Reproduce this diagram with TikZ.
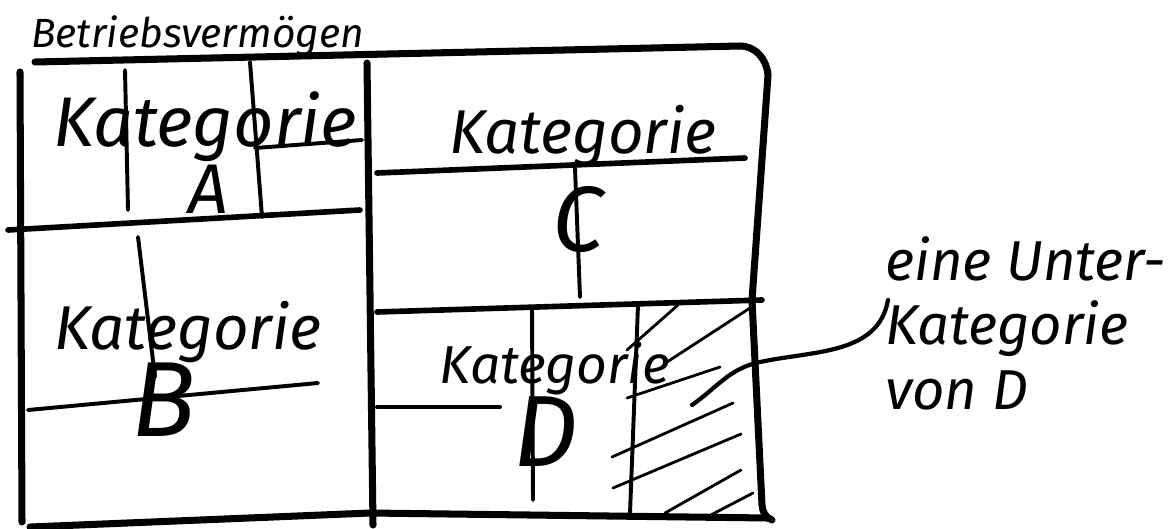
\documentclass[tikz,border=0pt]{standalone}
\usepackage{fontspec}
\setmainfont{Fira Sans}

\begin{document}
\begin{tikzpicture}[
  x=0.025cm, y=-0.025cm,
  line cap=round, line join=round,
  outline/.style={line width=5pt},
  split/.style={line width=4pt},
  sub/.style={line width=2.8pt},
  hatch/.style={line width=2pt},
  lead/.style={line width=3pt},
  kat/.style={anchor=base, inner sep=0pt},
  letter/.style={anchor=base, inner sep=0pt}
]
\useasboundingbox (0,0) rectangle (1176,528);

\node[anchor=base west, inner sep=0pt, font=\itshape\fontsize{29}{30}\selectfont] (title) at (31,47) {Betriebsvermögen};

\draw[outline] (35,62) -- (740,46) to[out=0,in=95] (768,75) -- (752,300) -- (762,505) to[out=-85,in=160] (772,520);
\draw[outline] (20,72) -- (22,522);
\draw[outline] (367,63) -- (373,525);
\draw[outline] (30,527) -- (370,513) -- (768,518);

\draw[split] (8,230) -- (360,210);
\draw[split] (377,312) -- (762,300);
\draw[split] (377,173) -- (745,158);

\draw[sub] (125,70) -- (128,210);
\draw[sub] (250,62) -- (262,217);
\draw[sub] (255,148) -- (362,140);
\draw[sub] (138,237) -- (155,377);
\draw[sub] (28,410) -- (318,383);
\draw[sub] (575,168) -- (580,297);
\draw[sub] (377,407) -- (500,407);
\draw[sub] (532,308) -- (533,500);
\draw[sub] (638,305) -- (630,513);

\foreach \xa/\ya/\xb/\yb in {627/350/678/305, 667/362/750/308, 627/398/720/367,
  612/457/733/403, 613/488/741/434, 665/513/741/470, 707/517/753/493}
  \draw[hatch] (\xa,\ya) -- (\xb,\yb);

\node[kat, font=\itshape\fontsize{50}{50}\selectfont] (katA) at (205,146) {Kategorie};
\node[letter, font=\itshape\fontsize{50}{50}\selectfont] (letA) at (208,213) {A};
\node[kat, font=\itshape\fontsize{44}{44}\selectfont] (katB) at (188,349) {Kategorie};
\node[letter, font=\itshape\fontsize{76}{76}\selectfont] (letB) at (164,436) {B};
\node[kat, font=\itshape\fontsize{44}{44}\selectfont] (katC) at (583,153) {Kategorie};
\node[letter, font=\itshape\fontsize{66}{66}\selectfont] (letC) at (578,251) {C};
\node[kat, font=\itshape\fontsize{38}{38}\selectfont] (katD) at (555,383) {Kategorie};
\node[letter, font=\itshape\fontsize{72}{72}\selectfont] (letD) at (546,466) {D};

\node[anchor=north west, align=left, inner sep=0pt, font=\itshape\fontsize{40}{46}\selectfont] (note) at (885,236) {eine Unter-\\Kategorie\\von D};

\coordinate (tip) at (888,300);
\coordinate (subD) at (692,405);
\draw[lead] (tip) to[out=-100,in=12] (760,362) to[out=-168,in=35] (subD);
\end{tikzpicture}
\end{document}
